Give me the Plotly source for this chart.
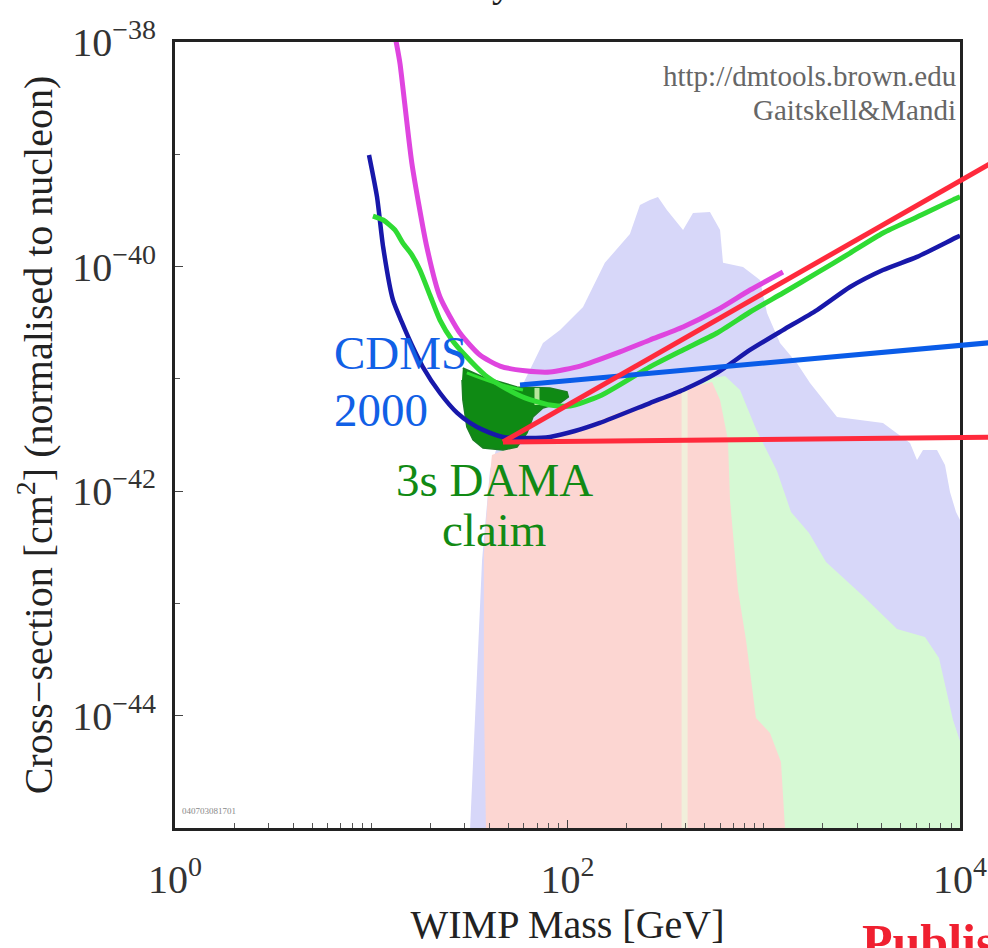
import math
import plotly.graph_objects as go

# ---------------- data ----------------
# WIMP mass [GeV] and cross-section [cm^2]
magenta_mass = [13.1, 13.4, 14.0, 16.1, 19.2, 22.4, 28.3, 35.8, 45.3, 60.7, 81.4, 116, 185, 263, 388, 578, 851, 1253]
magenta_sigma = [1.23e-38, 1.0e-38, 6.5e-39, 8.36e-40, 1.49e-40, 5.36e-41, 2.56e-41, 1.63e-41, 1.30e-41, 1.18e-41,
                 1.15e-41, 1.30e-41, 1.74e-41, 2.22e-41, 2.90e-41, 4.10e-41, 6.18e-41, 8.95e-41]

green_mass = [10.2, 11.5, 13.2, 14.5, 16.1, 17.7, 19.9, 22.4, 25.8, 30.0, 38.0, 45.3, 60.7, 81.4, 103, 146, 263,
              388, 578, 851, 1253, 1867, 2751, 4051, 6038, 9654, 10000]
green_sigma = [2.82e-40, 2.60e-40, 2.12e-40, 1.62e-40, 1.27e-40, 9.33e-41, 5.58e-41, 3.34e-41, 2.22e-41, 1.63e-41,
               1.08e-41, 8.81e-42, 6.76e-42, 5.85e-42, 5.73e-42, 7.03e-42, 1.28e-41, 1.81e-41, 2.56e-41, 3.94e-41,
               5.82e-41, 8.77e-41, 1.32e-40, 1.99e-40, 2.76e-40, 4.08e-40, 4.18e-40]

cdms_mass = [9.74, 10.7, 11.5, 12.9, 14.3, 16.1, 18.3, 22.4, 27.4, 31.9, 37.1, 46.9, 64.4, 81.4, 109, 146, 263,
             388, 578, 851, 1253, 1867, 2751, 4051, 6038, 9654, 10000]
cdms_sigma = [9.86e-40, 4.17e-40, 1.49e-40, 5.04e-41, 3.21e-41, 2.00e-41, 1.28e-41, 7.48e-42, 4.97e-42, 4.05e-42,
              3.51e-42, 3.04e-42, 2.97e-42, 3.04e-42, 3.43e-42, 4.05e-42, 6.09e-42, 7.96e-42, 1.13e-41, 1.81e-41,
              2.72e-41, 4.10e-41, 6.58e-41, 9.33e-41, 1.22e-40, 1.83e-40, 1.88e-40]

# theory regions (filled outlines)
blue_region_mass = [31.9, 34.2, 36.7, 40.3, 48.0, 60.7, 75.0, 91.6, 120, 155, 208, 234, 263, 289, 321, 388, 436,
                    532, 599, 620, 784, 957, 1039, 1210, 1477, 1721, 2362, 4051, 5563, 6038, 6478, 7636, 8386,
                    8893, 9541, 10000, 10000]
blue_region_sigma = [1e-45, 1.38e-44, 2.44e-43, 1.54e-42, 4.30e-42, 9.77e-42, 2.09e-41, 2.72e-41, 4.36e-41,
                     1.08e-40, 1.95e-40, 3.54e-40, 3.92e-40, 4.17e-40, 3.19e-40, 2.12e-40, 3.00e-40, 3.06e-40,
                     2.12e-40, 1.08e-40, 9.91e-41, 7.59e-41, 3.86e-41, 2.09e-41, 1.38e-41, 9.18e-42, 4.57e-42,
                     4.05e-42, 2.69e-42, 1.89e-42, 2.33e-42, 2.33e-42, 1.71e-42, 9.82e-43, 6.52e-43, 5.53e-43, 1e-45]

green_region_mass = [473, 473, 545, 635, 757, 913, 1168, 1377, 1701, 2076, 3168, 4775, 6632, 7816, 9211, 10000, 10000]
green_region_sigma = [1e-45, 8.81e-42, 1.02e-41, 1.06e-41, 7.96e-42, 3.58e-42, 1.51e-42, 6.52e-43, 4.24e-43,
                      2.34e-43, 1.19e-43, 5.92e-44, 5.02e-44, 3.26e-44, 9.16e-45, 5.96e-45, 1e-45]

pink_region_mass = [38.4, 37.5, 37.5, 39.3, 41.2, 50.9, 72.4, 116, 185, 296, 473, 545, 599, 657, 673, 739, 812,
                    913, 1076, 1224, 1283]
pink_region_sigma = [1e-45, 1.38e-44, 2.75e-43, 9.06e-43, 2.10e-42, 2.42e-42, 2.86e-42, 3.65e-42, 5.07e-42,
                     6.76e-42, 8.81e-42, 9.38e-42, 6.49e-42, 2.86e-42, 8.34e-43, 1.32e-43, 4.73e-44, 9.55e-45,
                     7.02e-45, 3.87e-45, 1e-45]

stripe_mass = [395, 395]
stripe_sigma = [8.5e-42, 1e-45]

dama_mass = [29.3, 37.1, 55.3, 81.4, 99.4, 101, 91.6, 75.0, 66.7, 62.2, 55.3, 46.9, 37.1, 33.0, 30.7, 29.3, 29.0]
dama_sigma = [1.25e-41, 1.04e-41, 8.47e-42, 8.30e-42, 7.64e-42, 6.90e-42, 6.09e-42, 5.51e-42, 4.57e-42, 3.30e-42,
              2.47e-42, 2.33e-42, 2.42e-42, 2.86e-42, 3.73e-42, 6.49e-42, 9.77e-42]
dama_inner_mass = [30.7, 42.7, 59.3]
dama_inner_sigma = [1.13e-41, 9.18e-42, 7.96e-42]
dama_notch_mass = [69.9, 69.9]
dama_notch_sigma = [8.30e-42, 5.85e-42]

# pointer tips (data) and their far ends (paper, off to the right of the crop)
cdms_tip = (57.3, 8.81e-42)
dama_tip = (46.9, 2.74e-42)

x_ticks = [1, 100, 10000]
x_ticktext = ["10<sup>0</sup>", "10<sup>2</sup>", "10<sup>4</sup>"]
y_ticks = [1e-44, 1e-42, 1e-40, 1e-38]
y_ticktext = ["10<sup>\u221244</sup>", "10<sup>\u221242</sup>", "10<sup>\u221240</sup>", "10<sup>\u221238</sup>"]

X_RANGE = [0, 4]
Y_RANGE = [-45, -38]

SERIF = "Liberation Serif, Times New Roman, serif"

fig = go.Figure()


def fill(mx, sy, color):
    fig.add_trace(go.Scatter(x=mx, y=sy, mode="lines", fill="toself", fillcolor=color,
                             line=dict(width=0, color=color), hoverinfo="skip", showlegend=False))


fill(blue_region_mass, blue_region_sigma, "#d7d7f9")
fill(green_region_mass, green_region_sigma, "#d6f9d4")
fill(pink_region_mass, pink_region_sigma, "#fcd6d2")
fig.add_trace(go.Scatter(x=stripe_mass, y=stripe_sigma, mode="lines", line=dict(color="#f1efdb", width=6),
                         hoverinfo="skip", showlegend=False))

# DAMA region
fig.add_trace(go.Scatter(x=dama_mass, y=dama_sigma, mode="lines", fill="toself", fillcolor="#0f8a14",
                         line=dict(width=1.5, color="#1a7f22"), hoverinfo="skip", showlegend=False))
fig.add_trace(go.Scatter(x=dama_inner_mass, y=dama_inner_sigma, mode="lines", line=dict(color="#2fe02f", width=3),
                         line_shape="spline", hoverinfo="skip", showlegend=False))
fig.add_trace(go.Scatter(x=dama_notch_mass, y=dama_notch_sigma, mode="lines", line=dict(color="#b6e69a", width=5),
                         hoverinfo="skip", showlegend=False))

# limit curves
spline = dict(shape="spline", smoothing=0.6)
fig.add_trace(go.Scatter(x=cdms_mass, y=cdms_sigma, mode="lines", line=dict(color="#1818aa", width=4.5, **spline),
                         hoverinfo="skip", showlegend=False))
fig.add_trace(go.Scatter(x=green_mass, y=green_sigma, mode="lines", line=dict(color="#2fdb33", width=5, **spline),
                         hoverinfo="skip", showlegend=False))
fig.add_trace(go.Scatter(x=magenta_mass, y=magenta_sigma, mode="lines",
                         line=dict(color="#df45df", width=5, **spline), hoverinfo="skip", showlegend=False))


def to_paper(m, s):
    px = (math.log10(m) - X_RANGE[0]) / (X_RANGE[1] - X_RANGE[0])
    py = (math.log10(s) - Y_RANGE[0]) / (Y_RANGE[1] - Y_RANGE[0])
    return px, py


cx, cy = to_paper(*cdms_tip)
dx, dy = to_paper(*dama_tip)
shapes = [
    dict(type="line", xref="paper", yref="paper", x0=cx, y0=cy, x1=1.178, y1=0.630,
         line=dict(color="#0a5ce8", width=5)),
    dict(type="line", xref="paper", yref="paper", x0=dx, y0=dy, x1=1.178, y1=0.925,
         line=dict(color="#ff2a3c", width=5)),
    dict(type="line", xref="paper", yref="paper", x0=dx, y0=dy, x1=1.178, y1=0.4987,
         line=dict(color="#ff2a3c", width=5)),
]

annotations = [
    dict(text="CDMS", x=0.200, y=0.6043, xref="paper", yref="paper", showarrow=False,
         font=dict(family=SERIF, size=47, color="#1160e6")),
    dict(text="2000", x=0.200, y=0.5318, xref="paper", yref="paper", showarrow=False,
         font=dict(family=SERIF, size=47, color="#1160e6")),
    dict(text="3s DAMA", x=0.4064, y=0.4427, xref="paper", yref="paper", showarrow=False,
         font=dict(family=SERIF, size=47, color="#118a14")),
    dict(text="claim", x=0.4064, y=0.379, xref="paper", yref="paper", showarrow=False,
         font=dict(family=SERIF, size=47, color="#118a14")),
    dict(text="http://dmtools.brown.edu", x=0.9975, y=0.9796, xref="paper", yref="paper", showarrow=False,
         xanchor="right", font=dict(family=SERIF, size=29, color="#666666")),
    dict(text="Gaitskell&amp;Mandi", x=0.9975, y=0.9364, xref="paper", yref="paper", showarrow=False,
         xanchor="right", font=dict(family=SERIF, size=29, color="#666666")),
    dict(text="040703081701", x=0.006, y=0.013, xref="paper", yref="paper", showarrow=False,
         xanchor="left", font=dict(family=SERIF, size=9, color="#888888")),
    dict(text="<b>Published</b>", x=0.8726, y=-0.1069, xref="paper", yref="paper", showarrow=False,
         xanchor="left", yanchor="top", font=dict(family=SERIF, size=50, color="#f02030")),
    dict(text="y", x=0.4166, y=1.045, xref="paper", yref="paper", showarrow=False,
         xanchor="center", yanchor="bottom", font=dict(family=SERIF, size=40, color="#222222")),
]

x_minor = [k * 10 ** d for d in range(0, 4) for k in range(2, 10)] + [10, 1000]
y_minor = [1e-45, 1e-43, 1e-41, 1e-39]

axis_common = dict(type="log", showgrid=False, zeroline=False, showline=True, mirror=True, automargin=False,
                   linecolor="#222222", linewidth=3, ticks="inside", ticklen=8, tickcolor="#444444",
                   tickfont=dict(family=SERIF, size=40, color="#333333"))

fig.update_layout(
    width=988, height=948,
    margin=dict(l=175, r=28, t=42, b=120, autoexpand=False),
    paper_bgcolor="white", plot_bgcolor="white",
    showlegend=False,
    shapes=shapes,
    annotations=annotations,
    xaxis=dict(axis_common, range=X_RANGE, tickvals=x_ticks, ticktext=x_ticktext,
               ticklabelstandoff=14,
               minor=dict(tickvals=x_minor, ticks="inside", ticklen=5, tickcolor="#555555"),
               title=dict(text="WIMP Mass [GeV]", standoff=6,
                          font=dict(family=SERIF, size=40, color="#222222"))),
    yaxis=dict(axis_common, range=Y_RANGE, tickvals=y_ticks, ticktext=y_ticktext,
               ticklabelstandoff=8,
               minor=dict(tickvals=y_minor, ticks="inside", ticklen=5, tickcolor="#555555"),
               title=dict(text="Cross\u2212section [cm<sup>2</sup>] (normalised to nucleon)", standoff=8,
                          font=dict(family=SERIF, size=40, color="#222222"))),
)

fig.write_html("out.html")
